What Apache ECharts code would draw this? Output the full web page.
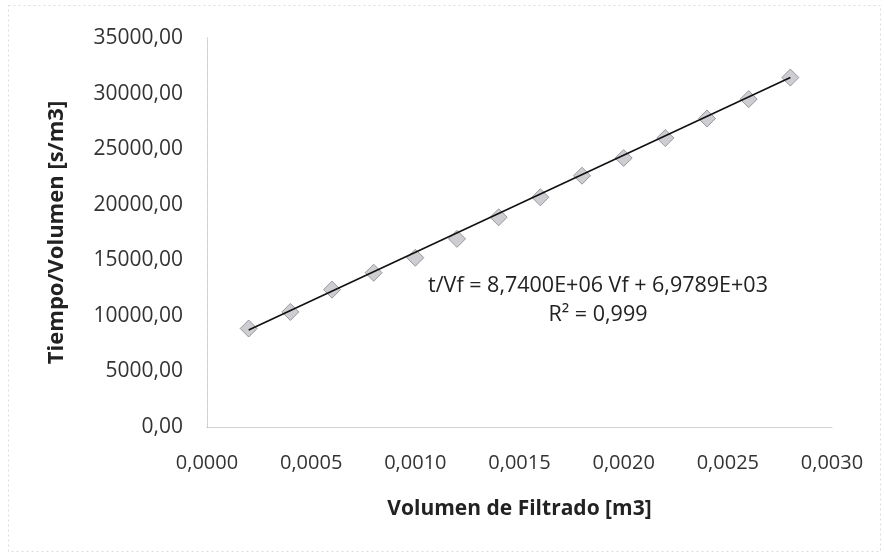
<!DOCTYPE html>
<html>
<head>
<meta charset="utf-8">
<script src="https://cdn.jsdelivr.net/npm/echarts@6/dist/echarts.min.js"></script>
<style>
  html, body { margin: 0; padding: 0; background: #fff; }
  #chart { width: 884px; height: 554px; }
</style>
</head>
<body>
<div id="chart"></div>
<script>
// volumen de filtrado [m3]
var vol = [0.0002, 0.0004, 0.0006, 0.0008, 0.0010, 0.0012, 0.0014,
           0.0016, 0.0018, 0.0020, 0.0022, 0.0024, 0.0026, 0.0028];
// tiempo/volumen [s/m3]
var tv = [8860, 10350, 12360, 13880, 15230, 16930, 18870,
          20670, 22610, 24200, 26000, 27760, 29500, 31440];
// recta de ajuste (Excel)
var pendiente = 8.7400E+06;
var ordenada = 6.9789E+03;
var ecuacion = 't/Vf = 8,7400E+06 Vf + 6,9789E+03';
var r2 = 'R² = 0,999';

var FONT = '"Open Sans", sans-serif';

var puntos = vol.map(function (v, i) { return [v, tv[i]]; });
var x0 = vol[0], x1 = vol[vol.length - 1];
var tendencia = [[x0, pendiente * x0 + ordenada], [x1, pendiente * x1 + ordenada]];

var chart = echarts.init(document.getElementById('chart'));
var option = {
  backgroundColor: '#fff',
  animation: false,
  grid: { left: 207, right: 52, top: 38, bottom: 127 },
  xAxis: {
    type: 'value',
    min: 0, max: 0.003, interval: 0.0005,
    name: 'Volumen de Filtrado [m3]',
    nameLocation: 'middle',
    nameGap: 72,
    nameTextStyle: { fontFamily: FONT, fontWeight: 'bold', fontSize: 21, color: '#222' },
    axisLine: { show: true, lineStyle: { color: '#c8c8c8', width: 1, type: 'dotted' } },
    axisTick: { show: false },
    splitLine: { show: false },
    axisLabel: {
      margin: 26,
      fontFamily: FONT, fontSize: 20, color: '#333',
      formatter: function (v) { return v.toFixed(4).replace('.', ','); }
    }
  },
  yAxis: {
    type: 'value',
    min: 0, max: 35000, interval: 5000,
    name: 'Tiempo/Volumen [s/m3]',
    nameLocation: 'middle',
    nameGap: 139,
    nameTextStyle: { fontFamily: FONT, fontWeight: 'bold', fontSize: 22, color: '#222' },
    axisLine: { show: true, lineStyle: { color: '#c8c8c8', width: 1, type: 'dotted' } },
    axisTick: { show: false },
    splitLine: { show: false },
    axisLabel: {
      margin: 24,
      fontFamily: FONT, fontSize: 21, color: '#333',
      formatter: function (v) { return v.toFixed(2).replace('.', ','); }
    }
  },
  series: [
    {
      type: 'scatter',
      data: puntos,
      symbol: 'diamond',
      symbolSize: [17, 17],
      itemStyle: { color: '#c2c0c6', borderColor: '#85838b', borderWidth: 1 },
      z: 2
    },
    {
      type: 'line',
      data: tendencia,
      showSymbol: false,
      symbol: 'none',
      lineStyle: { color: '#111', width: 1.6 },
      z: 3
    }
  ],
  graphic: [
    {
      type: 'rect',
      left: 6, top: 3,
      shape: { width: 872, height: 546 },
      style: { fill: 'none', stroke: '#dcdcdc', lineWidth: 1, lineDash: [2, 3] },
      silent: true
    },
    {
      type: 'text',
      x: 598, y: 286,
      style: { text: ecuacion, fontFamily: FONT, fontSize: 21.5, fill: '#222',
               align: 'center', verticalAlign: 'middle' }
    },
    {
      type: 'text',
      x: 598, y: 315,
      style: { text: r2, fontFamily: FONT, fontSize: 21.5, fill: '#222',
               align: 'center', verticalAlign: 'middle' }
    }
  ]
};
chart.setOption(option);
</script>
</body>
</html>
